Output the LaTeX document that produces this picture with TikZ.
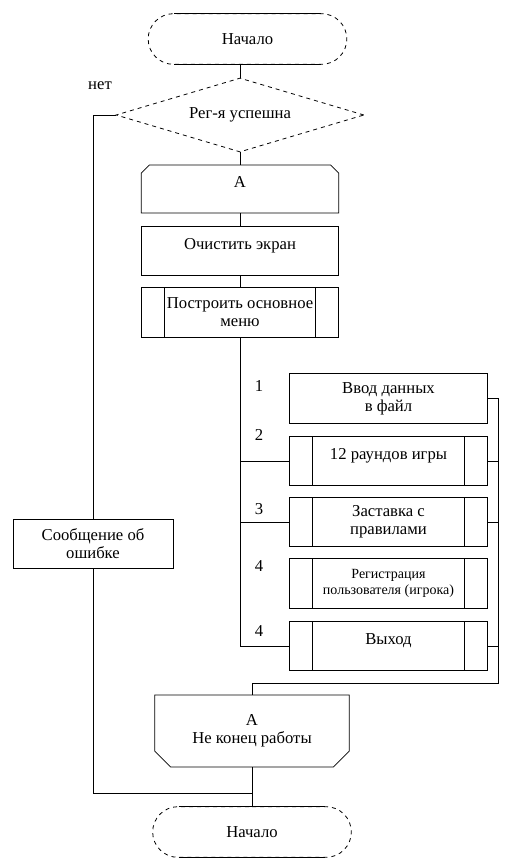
\documentclass[tikz,border=0pt]{standalone}
\usepackage{fontspec}
\setmainfont{Liberation Serif}
\usetikzlibrary{shapes.geometric,shapes.misc}

\tikzstyle{term} = [rounded rectangle, draw, dashed, minimum width=149pt, minimum height=38pt, inner sep=0pt]
\tikzstyle{decide} = [diamond, draw, dashed, shape aspect=3.35, minimum width=186pt, minimum height=55.5pt, inner sep=0pt]
\tikzstyle{block} = [rectangle, draw, minimum width=148pt, minimum height=37pt, align=center, inner sep=0pt]
\tikzstyle{sub} = [block, path picture={
    \draw ([xshift=17.5pt]path picture bounding box.north west) -- ([xshift=17.5pt]path picture bounding box.south west)
          ([xshift=-17.5pt]path picture bounding box.north east) -- ([xshift=-17.5pt]path picture bounding box.south east);}]
\tikzstyle{casebox} = [minimum width=149pt]
\tikzstyle{loopbeg} = [chamfered rectangle, chamfered rectangle corners={north west,north east}, chamfered rectangle xsep=3pt, chamfered rectangle ysep=3pt, draw, minimum width=148pt, minimum height=36pt, inner sep=0pt, align=center]
\tikzstyle{loopend} = [chamfered rectangle, chamfered rectangle corners={south west,south east}, chamfered rectangle xsep=6pt, chamfered rectangle ysep=6pt, draw, minimum width=146pt, minimum height=54pt, inner sep=0pt, align=center]
\tikzstyle{raised} = [text depth=11pt]
\tikzstyle{num} = [inner sep=0pt]

\begin{document}
\begin{tikzpicture}[x=0.75pt, y=-0.75pt, line width=0.6pt, font=\fontsize{12.5}{13.5}\selectfont]
\useasboundingbox (0,0) rectangle (507,868);

\node[term] (start) at (247.5,39) {Начало};
\draw[solid] ([xshift=-55pt]start.north) -- ([xshift=55pt]start.north)
             ([xshift=-55pt]start.south) -- ([xshift=55pt]start.south);
\node[decide] (reg) at (240,115) {Рег-я успешна};
\node[num] (net) at (100,86) {нет};
\node[loopbeg, raised] (begA) at (240,189) {A};
\node[block, raised] (clear) at (240,251) {Очистить экран};
\node[block, sub] (menu) at (240,312.5) {Построить основное\\меню};

\node[block, casebox] (c1) at (388.5,398.5) {Ввод данных\\в файл};
\node[block, sub, casebox, raised] (c2) at (388.5,461) {12 раундов игры};
\node[block, sub, casebox] (c3) at (388.5,522) {Заставка с\\правилами};
\node[block, sub, casebox, font=\fontsize{10.5}{12}\selectfont] (c4) at (388.5,583.5) {Регистрация\\пользователя (игрока)};
\node[block, sub, casebox, raised] (c5) at (388.5,646) {Выход};
\node[num] (n1) at (259,386) {1};
\node[num] (n2) at (259,435) {2};
\node[num] (n3) at (259,509) {3};
\node[num] (n4) at (259,566) {4};
\node[num] (n5) at (259,631) {4};

\node[block, minimum width=120pt] (err) at (93,544) {Сообщение об\\ошибке};
\node[loopend] (endA) at (252,731) {A\\Не конец работы};
\node[term] (stop) at (252,832) {Начало};
\draw[solid] ([xshift=-55pt]stop.north) -- ([xshift=55pt]stop.north)
             ([xshift=-55pt]stop.south) -- ([xshift=55pt]stop.south);

\coordinate (busbot) at (498,683);
\coordinate (join) at (252,793);

\draw (reg.north |- start.south) -- (reg.north);
\draw (reg.south) -- (begA.north);
\draw (begA.south) -- (clear.north);
\draw (clear.south) -- (menu.north);
\draw (menu.south) |- (c5.west);
\draw (menu.south |- c2.west) -- (c2.west);
\draw (menu.south |- c3.west) -- (c3.west);
\draw (c1.east) -- (c1.east -| busbot) -- (busbot) -- (busbot -| endA.north) -- (endA.north);
\draw (c2.east) -- (c2.east -| busbot);
\draw (c3.east) -- (c3.east -| busbot);
\draw (c5.east) -- (c5.east -| busbot);
\draw (endA.south) -- (stop.north);
\draw (reg.west) -| (err.north);
\draw (err.south) |- (join);
\end{tikzpicture}
\end{document}
